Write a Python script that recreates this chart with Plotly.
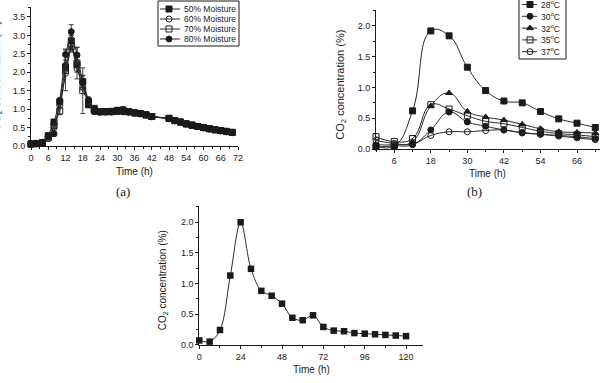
import plotly.graph_objects as go

# ---------------- data ----------------
# Panel (a): CO2 vs time at different moisture levels
time_a = [0, 2, 4, 6, 8, 10, 12, 14, 16, 18, 20, 22,
          24, 26, 28, 30, 32, 34, 36, 38, 40, 42,
          48, 50, 52, 54, 56, 58, 60, 62, 64, 66, 68, 70]
moist50 = [0.05, 0.06, 0.09, 0.28, 0.65, 1.20, 2.15, 2.85, 2.20, 1.75, 1.12, 1.02,
           0.93, 0.93, 0.93, 0.95, 0.96, 0.93, 0.90, 0.88, 0.84, 0.80,
           0.75, 0.69, 0.65, 0.60, 0.56, 0.53, 0.50, 0.47, 0.44, 0.42, 0.40, 0.37]
moist60 = [0.05, 0.06, 0.08, 0.20, 0.50, 1.10, 1.97, 2.75, 2.10, 1.60, 1.15, 0.95,
           0.92, 0.92, 0.93, 0.95, 0.95, 0.92, 0.89, 0.87, 0.84, 0.80,
           0.74, 0.68, 0.64, 0.60, 0.56, 0.52, 0.49, 0.46, 0.44, 0.41, 0.39, 0.37]
moist70 = [0.06, 0.07, 0.09, 0.22, 0.55, 0.95, 2.05, 2.70, 2.25, 1.50, 1.20, 0.97,
           0.93, 0.93, 0.94, 0.96, 0.97, 0.93, 0.90, 0.88, 0.85, 0.80,
           0.75, 0.69, 0.65, 0.60, 0.57, 0.53, 0.50, 0.47, 0.44, 0.42, 0.39, 0.37]
moist80 = [0.06, 0.07, 0.10, 0.25, 0.33, 1.22, 2.48, 3.10, 2.47, 1.72, 1.25, 0.93,
           0.92, 0.93, 0.92, 0.94, 0.93, 0.92, 0.90, 0.88, 0.84, 0.79,
           0.74, 0.69, 0.65, 0.60, 0.57, 0.53, 0.50, 0.46, 0.44, 0.41, 0.39, 0.36]
err50 = [0.01, 0.01, 0.02, 0.04, 0.05, 0.08, 0.10, 0.15, 0.20, 0.15, 0.08, 0.05,
         0.03, 0.03, 0.04, 0.08, 0.08, 0.05, 0.03, 0.03, 0.03, 0.03,
         0.02, 0.02, 0.02, 0.02, 0.02, 0.02, 0.02, 0.02, 0.02, 0.02, 0.02, 0.02]
err70 = [0.01, 0.01, 0.02, 0.04, 0.06, 0.10, 0.55, 0.15, 0.43, 0.62, 0.08, 0.05,
         0.03, 0.03, 0.05, 0.09, 0.10, 0.05, 0.03, 0.03, 0.03, 0.03,
         0.02, 0.02, 0.02, 0.02, 0.02, 0.02, 0.02, 0.02, 0.02, 0.02, 0.02, 0.02]
err80 = [0.01, 0.01, 0.02, 0.04, 0.06, 0.10, 0.15, 0.19, 0.20, 0.20, 0.08, 0.06,
         0.04, 0.04, 0.05, 0.08, 0.08, 0.05, 0.03, 0.03, 0.03, 0.03,
         0.03, 0.02, 0.02, 0.02, 0.02, 0.02, 0.02, 0.02, 0.02, 0.02, 0.02, 0.02]
labels_a = ["50% Moisture", "60% Moisture", "70% Moisture", "80% Moisture"]

# Panel (b): CO2 vs time at different temperatures
time_b = [0, 6, 12, 18, 24, 30, 36, 42, 48, 54, 60, 66, 72]
temp28 = [0.05, 0.05, 0.62, 1.92, 1.84, 1.33, 0.95, 0.78, 0.75, 0.61, 0.49, 0.42, 0.35]
temp30 = [0.03, 0.05, 0.07, 0.31, 0.60, 0.44, 0.37, 0.31, 0.27, 0.24, 0.22, 0.20, 0.17]
temp32 = [0.07, 0.07, 0.12, 0.70, 0.91, 0.61, 0.52, 0.47, 0.40, 0.33, 0.28, 0.27, 0.26]
temp35 = [0.20, 0.12, 0.17, 0.72, 0.65, 0.54, 0.45, 0.41, 0.35, 0.29, 0.25, 0.23, 0.20]
temp37 = [0.14, 0.09, 0.08, 0.22, 0.28, 0.28, 0.30, 0.31, 0.26, 0.24, 0.21, 0.18, 0.15]
labels_b = ["28<sup>o</sup>C", "30<sup>o</sup>C", "32<sup>o</sup>C", "35<sup>o</sup>C", "37<sup>o</sup>C"]

# Panel (c): CO2 vs time, single run
time_c = [0, 6, 12, 18, 24, 30, 36, 42, 48, 54, 60, 66, 72, 78, 84, 90, 96, 102, 108, 114, 120]
co2_c = [0.07, 0.05, 0.24, 1.13, 2.00, 1.24, 0.88, 0.80, 0.67, 0.44, 0.40, 0.48, 0.29,
         0.23, 0.22, 0.19, 0.18, 0.17, 0.16, 0.15, 0.14]

ticks_a_x = [0, 6, 12, 18, 24, 30, 36, 42, 48, 54, 60, 66, 72]
ticks_b_x = [6, 18, 30, 42, 54, 66]
ticks_c_x = [0, 24, 48, 72, 96, 120]

# ---------------- styling ----------------
W, H = 600, 383
FONT = "Liberation Sans, Arial, sans-serif"
SERIF = "Liberation Serif, Times New Roman, serif"
INK = "#1a1a1a"
LINE = "#2a2a2a"


def px_x(p):
    return p / W


def px_y(p):
    return 1 - p / H


fig = go.Figure()

# ---- panel (a) ----
series_a = [
    (moist50, "square", err50),
    (moist60, "circle-open", None),
    (moist70, "square-open", err70),
    (moist80, "circle", err80),
]
for (vals, sym, err), name in zip(series_a, labels_a):
    kw = {}
    if err is not None:
        kw["error_y"] = dict(type="data", array=err, visible=True,
                             color=LINE, thickness=0.9, width=2.5)
    fig.add_trace(go.Scatter(
        x=time_a, y=vals, mode="lines+markers", name=name,
        line=dict(color=LINE, width=1),
        marker=dict(symbol=sym, size=6, color=INK, line=dict(color=INK, width=1)),
        xaxis="x", yaxis="y", cliponaxis=False, showlegend=False, **kw))

# ---- panel (b) ----
series_b = [
    (temp28, "square"),
    (temp30, "circle"),
    (temp32, "triangle-up"),
    (temp35, "square-open"),
    (temp37, "circle-open"),
]
for (vals, sym), name in zip(series_b, labels_b):
    fig.add_trace(go.Scatter(
        x=time_b, y=vals, mode="lines+markers", name=name,
        line=dict(color=LINE, width=1, shape="spline", smoothing=1.3),
        marker=dict(symbol=sym, size=6, color=INK, line=dict(color=INK, width=1)),
        xaxis="x2", yaxis="y2", cliponaxis=False, showlegend=False))

# ---- panel (c) ----
fig.add_trace(go.Scatter(
    x=time_c, y=co2_c, mode="lines+markers", name="CO2",
    line=dict(color=LINE, width=1, shape="spline", smoothing=1.0),
    marker=dict(symbol="square", size=6.5, color=INK),
    xaxis="x3", yaxis="y3", cliponaxis=False, showlegend=False))

# ---- custom legends drawn on a pixel overlay axis ----
shapes = []
annotations = []


def legend_block(entries, box, ys, line_x, mark_x, text_x, size):
    x0, y0, x1, y1 = box
    shapes.append(dict(type="rect", xref="x4", yref="y4", x0=x0, x1=x1, y0=y0, y1=y1,
                       line=dict(color=INK, width=1), fillcolor="rgba(0,0,0,0)", layer="above"))
    for (label, sym), yy in zip(entries, ys):
        fig.add_trace(go.Scatter(
            x=list(line_x), y=[yy, yy], mode="lines", line=dict(color=LINE, width=1),
            xaxis="x4", yaxis="y4", showlegend=False, hoverinfo="skip", cliponaxis=False))
        fig.add_trace(go.Scatter(
            x=[mark_x], y=[yy], mode="markers",
            marker=dict(symbol=sym, size=size, color=INK, line=dict(color=INK, width=1)),
            xaxis="x4", yaxis="y4", showlegend=False, hoverinfo="skip", cliponaxis=False))
        annotations.append(dict(text=label, xref="x4", yref="y4", x=text_x, y=yy,
                                xanchor="left", yanchor="middle", showarrow=False,
                                font=dict(family=FONT, size=8.5, color=INK)))


legend_block(list(zip(labels_a, [s for _, s, _ in series_a])),
             (158, 1, 239, 46), [9, 19, 29, 39], (160, 180), 169, 182, 6)
legend_block(list(zip(labels_b, [s for _, s in series_b])),
             (519, -1, 566, 59), [4.5, 16.3, 28.1, 39.9, 51.7], (522, 537), 530, 539, 6)

# ---- axis titles and panel labels ----
def label(text, x, y, size, family=FONT, angle=0):
    annotations.append(dict(text=text, xref="paper", yref="paper", x=px_x(x), y=px_y(y),
                            xanchor="center", yanchor="middle", showarrow=False,
                            textangle=angle, font=dict(family=family, size=size, color=INK)))


co2_title = "CO<sub>2</sub> concentration (%)"
label(co2_title, -3, 76, 11, angle=-90)
label(co2_title, 340.7, 85, 11, angle=-90)
label(co2_title, 163.3, 280, 10, angle=-90)
label("Time (h)", 134.5, 171.7, 10)
label("Time (h)", 487.5, 173.3, 10)
label("Time (h)", 311.7, 369, 10)
label("(a)", 123, 192, 13, family=SERIF)
label("(b)", 474.5, 192, 13, family=SERIF)
label("(c)", 301, 387, 13, family=SERIF)

# ---------------- axes ----------------
def axis(domain, rng, **kw):
    d = dict(domain=domain, range=rng, showline=True, linecolor=INK, linewidth=1,
             ticks="outside", ticklen=3, tickwidth=1, tickcolor=INK, showgrid=False,
             zeroline=False, tickfont=dict(family=FONT, size=9, color=INK),
             automargin=False, fixedrange=True)
    d.update(kw)
    return d


minor = lambda dt: dict(ticks="outside", ticklen=2, tickwidth=1, tickcolor=INK, dtick=dt, tick0=0,
                        showgrid=False)

fig.update_layout(
    width=W, height=H, margin=dict(l=0, r=0, t=0, b=0),
    paper_bgcolor="white", plot_bgcolor="rgba(0,0,0,0)", showlegend=False,
    xaxis=axis([px_x(31), px_x(238)], [0, 72], anchor="y",
               tickmode="array", tickvals=ticks_a_x, minor=minor(3)),
    yaxis=axis([px_y(146), px_y(7)], [0, 3.77], anchor="x",
               dtick=0.5, tick0=0, tickformat=".1f", minor=minor(0.25)),
    xaxis2=axis([px_x(376), 1.0], [0, 73.55], anchor="y2",
                tickmode="array", tickvals=ticks_b_x, minor=minor(6)),
    yaxis2=axis([px_y(149), px_y(10)], [0, 2.26], anchor="x2",
                dtick=0.5, tick0=0, tickformat=".1f", minor=minor(0.25)),
    xaxis3=axis([px_x(199.3), px_x(423.3)], [0, 130], anchor="y3",
                tickmode="array", tickvals=ticks_c_x, minor=minor(12)),
    yaxis3=axis([px_y(344.7), px_y(206)], [0, 2.266], anchor="x3",
                dtick=0.5, tick0=0, tickformat=".1f", minor=minor(0.25)),
    xaxis4=dict(domain=[0, 1], range=[0, W], visible=False, anchor="y4", fixedrange=True),
    yaxis4=dict(domain=[0, 1], range=[H, 0], visible=False, anchor="x4", fixedrange=True),
    shapes=shapes, annotations=annotations,
)

fig.write_html("out.html")
